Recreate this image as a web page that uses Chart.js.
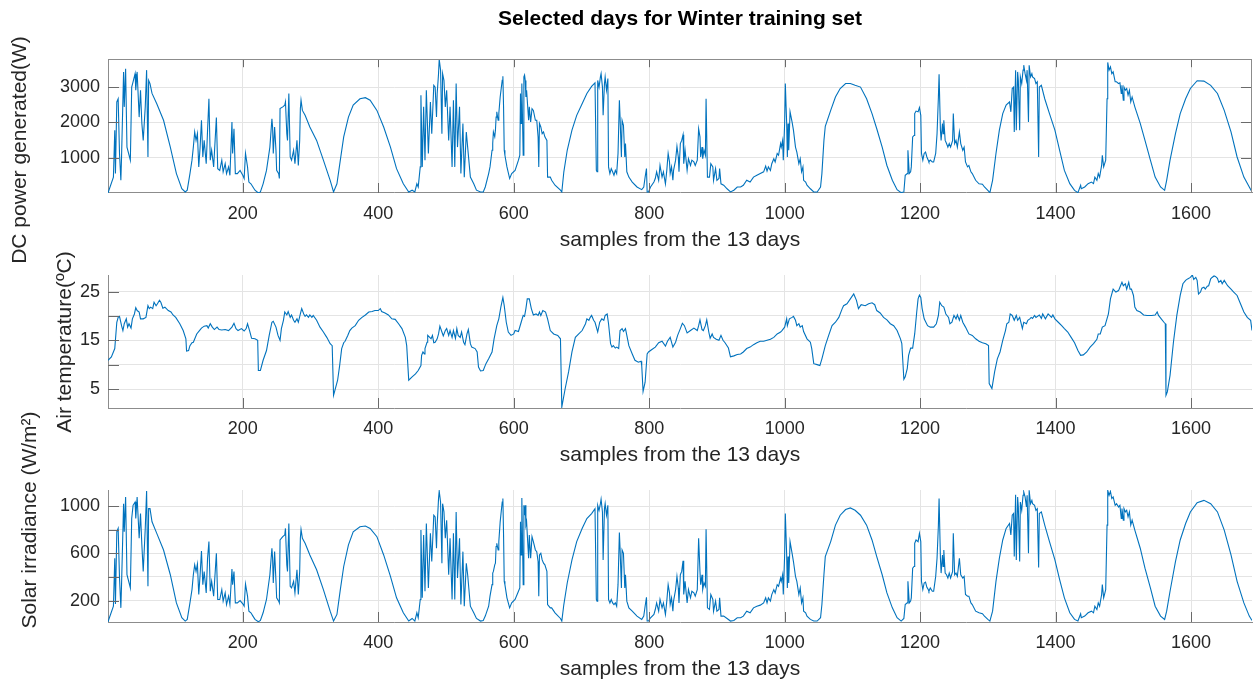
<!DOCTYPE html>
<html><head><meta charset="utf-8">
<script src="https://cdn.jsdelivr.net/npm/chart.js@4.4.1/dist/chart.umd.min.js"></script>
<style>
html,body{margin:0;padding:0;background:#fff;}
#wrap{position:relative;width:1257px;height:684px;}
#wrap canvas{position:absolute;left:0;top:0;}
</style></head><body>
<div id="wrap">
<canvas id="c1" width="1257" height="684"></canvas>
<canvas id="c2" width="1257" height="684"></canvas>
<canvas id="c3" width="1257" height="684"></canvas>
</div>
<script>
// ---------- data ----------
const xTicks = [200,400,600,800,1000,1200,1400,1600];
const xTickLabels = ['200','400','600','800','1000','1200','1400','1600'];
const powerTicks = [1000,2000,3000];
const powerTickLabels = ['1000','2000','3000'];
const tempTicks = [5,10,15,20,25];
const tempTickLabels = ['5','','15','','25'];
const irrTicks = [200,400,600,800,1000];
const irrTickLabels = ['200','','600','','1000'];

// [sample, DC power (W)]
const powerData = [[1,0],[9,450],[11,1780],[12,550],[14,2580],[16,2670],[18,1120],[20,360],[21,1020],[24,3430],[25,2440],[27,3520],[29,1300],[34,930],[36,3000],[38,3150],[41,3380],[42,2910],[44,3430],[47,2150],[49,2910],[51,1970],[53,1490],[56,2440],[58,3480],[60,1020],[61,3190],[63,3100],[66,2820],[73,2530],[83,2060],[93,1300],[102,550],[110,120],[115,30],[118,80],[122,550],[125,930],[127,1300],[129,1730],[131,1490],[133,1680],[135,740],[137,1300],[139,2060],[141,1020],[143,1490],[146,830],[148,1780],[150,2670],[152,930],[154,1210],[157,740],[161,2140],[163,690],[166,640],[169,930],[171,600],[174,830],[176,550],[179,740],[181,500],[184,2010],[185,1120],[187,1820],[189,550],[192,550],[196,640],[200,500],[202,410],[204,1120],[207,740],[209,310],[212,260],[215,170],[218,80],[223,0],[226,30],[230,260],[235,640],[240,1300],[243,2100],[244,1870],[245,1120],[247,1870],[249,1210],[250,640],[253,550],[254,410],[255,2390],[259,2440],[262,2490],[263,2580],[265,1680],[266,1490],[268,2820],[270,1020],[272,930],[275,1210],[277,830],[280,1490],[282,780],[284,1490],[285,2390],[286,2630],[288,2340],[292,2200],[299,1870],[309,1490],[319,930],[329,360],[334,30],[339,260],[344,930],[349,1590],[356,2150],[363,2490],[373,2670],[381,2700],[388,2630],[398,2340],[408,1870],[418,1300],[427,690],[437,260],[445,30],[450,80],[454,30],[457,260],[459,170],[462,740],[463,2770],[465,740],[467,2440],[469,930],[471,2910],[474,1120],[477,2580],[479,1680],[482,3050],[484,3000],[486,2150],[487,2820],[489,3380],[490,3790],[492,3480],[494,1680],[495,3380],[497,3190],[499,2440],[501,2910],[504,1490],[506,2440],[509,740],[511,2630],[513,740],[515,3100],[517,1300],[520,2440],[522,550],[525,1970],[527,450],[530,1730],[532,1300],[536,450],[541,260],[545,80],
[551,30],[555,30],[558,170],[563,550],[565,740],[568,1210],[569,1400],[570,1730],[572,1590],[573,1780],[574,2150],[575,2300],[577,2060],[578,2250],[580,2720],[583,3190],[584,3310],[585,2440],[586,1210],[587,1070],[590,740],[594,410],[597,550],[602,640],[607,930],[609,1070],[610,2820],[611,1970],[612,3100],[614,1070],[615,3290],[616,3340],[617,3190],[618,2720],[619,2910],[622,2060],[623,2440],[625,2010],[627,2390],[629,2340],[632,2060],[634,2060],[636,1590],[637,740],[638,1970],[640,1870],[642,1680],[644,1730],[646,1590],[649,1490],[650,450],[654,450],[656,360],[661,220],[669,80],[671,30],[674,600],[679,1210],[686,1780],[693,2200],[701,2530],[708,2820],[715,3020],[720,3120],[722,640],[723,600],[724,3190],[726,3000],[728,3290],[729,3380],[731,3000],[732,2200],[734,3100],[735,3290],[737,2910],[739,3240],[740,740],[742,550],[744,690],[746,600],[748,500],[750,640],[752,550],[754,1120],[756,2630],[757,2150],[759,1020],[760,2060],[762,1920],[764,1020],[765,1400],[767,600],[770,450],[775,310],[782,170],[789,95],[792,170],[794,450],[796,690],[797,30],[799,30],[802,170],[807,310],[809,410],[811,600],[814,360],[816,780],[819,450],[821,600],[824,260],[826,640],[828,1120],[830,880],[831,550],[833,740],[835,360],[836,640],[839,930],[841,1320],[843,1020],[844,600],[846,1400],[848,1490],[850,1650],[851,830],[853,1210],[856,640],[858,970],[861,780],[863,930],[866,880],[868,780],[871,930],[873,1820],[875,1590],[876,1020],[878,1300],[879,970],[881,1210],[883,1070],[884,2670],[886,450],[889,450],[891,830],[894,740],[895,360],[898,690],[900,360],[903,410],[904,690],[906,260],[910,220],[915,120],[920,30],[925,80],[930,170],[935,170],[939,220],[944,360],[949,310],[954,450],[959,500],[964,550],[969,600],[972,760],[974,620],[976,740],[979,640],[981,830],[984,970],[986,880],[989,1120],[991,1070],[994,1400],[995,1300],[997,1490],[998,930],[1000,1970],[1001,3100],[1003,1970],[1004,1020],[1005,1970],[1006,1210],[1008,2300],[1011,2010],[1013,1780],[1016,1300],[1018,1160],[1021,830],[1023,970],[1025,600],[1027,740],[1028,360],[1031,310],[1033,220],[1038,120],[1043,30],[1048,30],[1053,170],[1055,550],[1058,1490],[1060,1890],[1068,2340],[1075,2720],[1082,2960],[1090,3100],[1097,3100],[1104,3050],[1112,3000],
[1121,2670],[1129,2250],[1136,1820],[1144,1300],[1151,780],[1159,360],[1166,95],[1172,10],[1176,30],[1178,500],[1181,550],[1182,1210],[1184,550],[1186,600],[1187,740],[1189,1590],[1191,1630],[1192,2250],[1194,2320],[1197,2300],[1199,2420],[1201,2200],[1202,1120],[1204,930],[1206,1120],[1208,1160],[1210,1020],[1212,930],[1213,880],[1215,930],[1218,880],[1220,880],[1223,1120],[1225,1680],[1227,2720],[1228,3360],[1230,1780],[1231,1490],[1233,1970],[1234,1680],[1235,2060],[1237,1490],[1239,1400],[1241,1300],[1243,1400],[1245,1300],[1248,1490],[1249,2250],[1251,1400],[1253,1490],[1255,1300],[1258,1730],[1260,1400],[1263,1210],[1265,1300],[1267,880],[1270,740],[1272,780],[1275,600],[1277,550],[1282,360],[1287,260],[1292,250],[1295,170],[1300,75],[1303,10],[1307,360],[1312,1120],[1317,1780],[1322,2250],[1327,2490],[1332,2580],[1334,2300],[1336,2960],[1338,3000],[1339,1730],[1341,3480],[1342,1780],[1344,3430],[1345,3190],[1347,1780],[1348,3290],[1350,3100],[1352,3480],[1353,3620],[1355,3380],[1357,3190],[1358,3480],[1360,2010],[1361,3620],[1363,3290],[1365,3380],[1366,3290],[1369,3240],[1371,3100],[1373,3150],[1375,1020],[1376,3000],[1379,3050],[1384,2670],[1391,2250],[1399,1780],[1406,1210],[1413,640],[1421,265],[1428,75],[1433,10],[1437,220],[1438,120],[1443,170],[1448,265],[1453,310],[1456,265],[1458,450],[1461,360],[1463,550],[1465,450],[1468,780],[1469,1070],[1471,740],[1474,930],[1476,2670],[1477,3700],[1479,3480],[1481,3570],[1483,3380],[1485,3430],[1488,3150],[1490,3150],[1493,3100],[1495,3120],[1497,2820],[1498,3050],[1500,2630],[1501,3000],[1503,2910],[1505,2960],[1507,2770],[1509,2910],[1511,2580],[1513,2720],[1517,2440],[1525,1970],[1532,1490],[1540,930],[1547,450],[1555,170],[1561,75],[1564,360],[1569,930],[1577,1680],[1584,2250],[1592,2670],[1599,2960],[1609,3180],[1619,3170],[1629,3050],[1639,2820],[1649,2340],[1659,1730],[1668,1020],[1678,450],[1686,170],[1690,30]];

// [sample, air temperature (ºC)]
const tempData = [[1,10.9],[6,11.6],[11,13.3],[14,18.7],[16,19.7],[18,19.9],[21,18.0],[23,17.0],[25,18.4],[28,19.4],[30,17.7],[32,18.4],[35,17.5],[37,19.4],[40,20.4],[42,21.7],[44,21.1],[47,20.8],[49,19.4],[53,19.4],[57,19.7],[60,22.1],[62,21.5],[64,21.8],[67,21.5],[69,22.8],[72,22.1],[74,22.5],[77,23.2],[79,22.8],[82,21.6],[85,21.8],[90,21.1],[94,20.8],[97,20.2],[101,19.7],[107,18.4],[112,17.0],[116,15.3],[117,12.8],[120,12.9],[122,13.9],[125,14.5],[127,14.6],[132,16.3],[136,17.0],[139,17.5],[143,17.9],[147,18.0],[149,17.5],[152,18.4],[155,17.7],[158,17.2],[162,17.7],[165,17.2],[169,17.1],[174,17.2],[179,17.0],[184,17.7],[187,18.5],[190,17.4],[193,17.0],[198,17.4],[202,16.9],[205,17.4],[207,18.4],[210,17.0],[213,15.4],[218,15.3],[222,15.0],[223,8.8],[226,8.8],[230,10.9],[235,12.9],[239,16.0],[243,18.7],[245,18.9],[249,17.7],[252,16.0],[255,15.0],[257,17.4],[260,19.1],[262,20.8],[265,20.2],[267,20.9],[270,19.7],[272,20.2],[275,19.1],[277,18.7],[280,19.4],[282,18.7],[285,20.4],[287,21.5],[290,20.4],[292,19.9],[294,20.2],[297,19.7],[299,20.2],[302,19.7],[304,20.1],[309,19.1],[314,17.7],[319,16.7],[324,15.6],[329,14.3],[332,13.9],[334,3.7],[336,4.7],[340,6.8],[343,9.8],[346,13.3],[349,14.5],[351,14.8],[355,16.0],[358,17.0],[361,17.5],[366,18.0],[371,19.1],[376,19.7],[381,20.2],[386,20.8],[391,20.9],[395,21.1],[400,21.1],[403,21.5],[405,20.9],[410,20.6],[415,20.2],[420,19.4],[425,19.3],[430,18.4],[435,17.4],[440,15.6],[442,13.9],[445,6.8],[450,7.5],[455,8.1],[459,8.8],[463,9.8],[464,11.9],[466,12.6],[468,12.2],[469,13.3],[472,14.6],[473,16.0],[476,15.6],[478,15.3],[480,16.0],[482,14.5],[484,14.6],[487,15.3],[489,16.3],[491,17.9],[494,16.7],[496,15.9],[499,17.0],[501,17.4],[504,16.0],[506,17.0],[509,15.6],[511,17.0],[514,15.4],[516,17.4],[518,16.0],[521,15.6],[523,16.7],[526,14.6],[528,14.1],[531,16.3],[533,17.2],[536,14.3],[538,13.6],[543,13.3],[546,12.6],[548,9.5],[551,8.7],
[555,8.8],[559,10.2],[563,11.2],[568,12.6],[571,15.3],[575,18.0],[578,19.4],[581,21.8],[584,23.8],[586,22.1],[589,18.7],[592,16.7],[596,16.0],[600,16.3],[602,17.0],[607,16.8],[611,18.7],[614,20.1],[616,19.9],[618,21.5],[620,23.5],[623,23.5],[626,21.5],[629,20.2],[633,20.4],[636,20.1],[638,20.8],[640,20.1],[643,21.1],[647,20.8],[650,19.4],[654,17.0],[659,16.3],[665,16.0],[669,15.3],[671,1.3],[676,5.1],[681,8.5],[686,12.6],[691,15.6],[696,16.3],[701,17.0],[706,18.4],[708,19.4],[711,19.1],[713,19.7],[715,20.1],[718,19.1],[720,18.7],[724,16.7],[727,18.7],[730,19.4],[733,19.1],[735,20.1],[738,20.4],[740,18.4],[743,14.3],[745,13.6],[747,13.9],[750,13.4],[752,13.6],[755,13.3],[757,17.0],[760,17.4],[762,16.8],[765,17.4],[767,16.0],[770,13.9],[775,12.2],[779,10.9],[784,10.5],[788,10.7],[789,9.8],[791,4.5],[794,6.4],[797,12.2],[799,12.6],[804,13.1],[809,13.6],[814,14.5],[819,14.8],[824,13.8],[827,14.8],[831,15.6],[835,13.6],[839,14.6],[842,16.0],[846,17.4],[849,18.5],[852,18.0],[856,16.5],[861,17.0],[866,17.5],[871,17.0],[873,18.0],[875,19.2],[878,17.2],[880,17.0],[883,18.0],[885,19.2],[888,16.7],[890,15.4],[893,16.3],[895,15.6],[899,15.2],[903,15.0],[906,16.0],[909,15.0],[912,14.5],[917,13.4],[920,11.6],[925,11.8],[930,12.1],[935,12.2],[939,12.6],[944,13.3],[949,13.6],[954,14.1],[959,14.5],[964,14.8],[969,14.8],[974,15.0],[979,15.2],[984,15.6],[989,16.3],[994,16.7],[996,17.0],[1000,17.7],[1003,19.4],[1004,18.0],[1007,19.4],[1011,19.7],[1013,19.9],[1016,19.1],[1018,18.0],[1021,18.4],[1023,17.7],[1026,18.0],[1028,16.8],[1033,15.3],[1038,14.6],[1040,13.3],[1043,10.2],[1048,10.0],[1052,9.8],[1055,11.2],[1060,13.9],[1065,16.0],[1070,18.0],[1075,18.7],[1080,19.7],[1085,21.5],[1087,22.1],[1092,22.5],[1097,23.5],[1102,24.5],[1106,23.2],[1109,21.5],[1113,22.3],
[1119,22.1],[1124,22.5],[1129,22.7],[1133,22.3],[1136,21.1],[1141,20.6],[1146,19.7],[1151,19.2],[1156,18.4],[1161,18.0],[1166,17.0],[1171,15.3],[1173,14.3],[1176,7.0],[1178,7.5],[1181,9.2],[1183,11.9],[1186,13.4],[1189,13.4],[1192,16.3],[1195,20.8],[1197,23.5],[1199,24.3],[1201,23.8],[1203,21.5],[1206,19.4],[1211,18.0],[1215,17.7],[1220,17.7],[1224,18.4],[1227,20.1],[1229,22.8],[1232,22.1],[1235,21.8],[1238,20.4],[1242,19.7],[1244,18.4],[1247,18.7],[1250,20.1],[1253,19.4],[1255,20.2],[1258,19.1],[1260,20.1],[1263,18.7],[1267,17.7],[1272,16.3],[1277,16.0],[1282,15.3],[1287,14.8],[1292,14.5],[1297,14.3],[1301,13.9],[1302,6.1],[1306,5.1],[1310,8.5],[1314,11.2],[1318,12.6],[1322,15.0],[1326,17.0],[1328,18.4],[1331,18.7],[1333,20.4],[1336,20.1],[1339,19.1],[1342,20.1],[1344,19.1],[1347,19.7],[1351,17.4],[1353,18.7],[1357,18.4],[1359,19.1],[1362,19.4],[1364,19.7],[1366,19.5],[1369,20.1],[1371,19.7],[1376,20.2],[1379,19.5],[1381,20.4],[1385,19.4],[1389,20.4],[1394,19.7],[1396,20.2],[1399,19.4],[1404,18.7],[1409,18.0],[1413,17.4],[1418,16.7],[1423,15.6],[1428,14.5],[1433,12.9],[1437,11.9],[1441,12.0],[1446,12.6],[1451,13.6],[1456,14.3],[1461,15.2],[1463,16.3],[1466,16.3],[1469,17.7],[1473,18.0],[1478,20.4],[1481,23.5],[1485,25.5],[1489,24.9],[1493,25.2],[1495,25.9],[1498,26.9],[1500,26.2],[1503,26.6],[1505,25.5],[1508,26.9],[1510,25.5],[1512,25.5],[1515,24.2],[1517,21.8],[1520,21.1],[1525,20.8],[1530,20.2],[1535,20.1],[1542,20.1],[1547,20.2],[1550,20.8],[1552,20.1],[1556,19.4],[1560,18.7],[1562,18.4],[1563,3.7],[1565,4.4],[1569,7.8],[1574,14.6],[1579,20.1],[1584,24.2],[1588,26.6],[1592,27.3],[1595,27.6],[1599,27.9],[1602,28.4],[1604,27.5],[1607,27.9],[1609,27.3],[1611,24.5],[1614,24.9],[1616,25.7],[1619,25.9],[1621,25.5],[1624,26.1],[1626,26.2],[1629,27.6],[1631,27.9],[1634,28.2],[1636,28.1],[1639,27.7],[1641,26.9],[1644,27.3],[1646,26.6],[1649,27.3],[1654,26.2],[1659,25.5],[1663,24.9],[1668,24.2],[1673,22.5],[1678,20.8],[1683,19.7],[1688,19.1],[1690,17.0]];

// [sample, solar irradiance (W/m2)]
const irrData = [[1,20],[9,152],[11,559],[12,170],[14,784],[16,812],[18,391],[20,138],[21,335],[24,1022],[25,784],[27,1079],[29,419],[34,307],[36,896],[38,1008],[41,1036],[42,896],[44,1079],[47,728],[49,938],[51,672],[53,447],[56,812],[58,1129],[60,321],[61,980],[63,980],[66,868],[73,770],[83,629],[93,419],[102,180],[110,54],[115,26],[118,40],[122,180],[125,293],[127,419],[129,503],[131,447],[133,509],[135,251],[137,419],[139,621],[141,335],[143,447],[146,265],[148,559],[150,700],[152,279],[154,363],[157,237],[161,601],[163,209],[166,209],[169,293],[171,195],[174,265],[176,166],[179,237],[181,166],[184,467],[185,335],[187,447],[189,180],[192,180],[196,200],[200,172],[202,152],[204,340],[207,237],[209,110],[212,96],[215,68],[218,40],[223,20],[226,31],[230,96],[235,209],[240,419],[243,644],[244,559],[245,349],[247,615],[249,363],[250,223],[253,195],[254,180],[255,714],[259,742],[262,756],[263,812],[265,503],[266,447],[268,854],[270,321],[272,307],[275,363],[277,265],[280,461],[282,251],[284,447],[285,728],[286,804],[288,728],[292,686],[299,587],[309,461],[319,293],[329,110],[334,26],[339,82],[344,293],[349,489],[356,672],[363,784],[373,826],[381,832],[388,812],[398,742],[408,587],[418,405],[427,223],[437,96],[445,26],[450,48],[454,26],[457,96],[459,54],[462,209],[463,798],[465,223],[467,756],[469,279],[471,854],[474,307],[477,770],[479,531],[482,924],[484,910],[486,644],[487,840],[489,1065],[490,1129],[492,1036],[494,517],[495,1022],[497,952],[499,728],[501,882],[504,419],[506,728],[509,209],[511,770],[513,209],[515,952],[517,391],[520,728],[522,166],[525,615],[527,152],[530,517],[532,419],[536,152],[541,96],[545,48],
[551,26],[555,31],[558,68],[563,152],[565,237],[568,335],[569,433],[570,447],[572,503],[573,517],[574,658],[575,686],[577,629],[578,700],[580,868],[583,1036],[584,1065],[585,756],[586,363],[587,335],[590,223],[594,138],[597,180],[602,209],[607,279],[609,307],[610,868],[611,587],[612,1070],[614,335],[615,1008],[616,924],[617,1008],[618,840],[619,868],[622,559],[623,756],[625,559],[627,742],[629,700],[632,629],[634,615],[636,531],[637,237],[638,587],[640,601],[642,545],[644,517],[646,503],[649,447],[650,166],[654,138],[656,138],[661,96],[669,48],[671,26],[674,166],[679,349],[686,545],[693,700],[701,812],[708,896],[715,938],[720,980],[722,209],[723,195],[724,1008],[726,966],[728,1022],[729,1059],[731,952],[732,545],[734,980],[735,1022],[737,924],[739,1008],[740,209],[742,180],[744,209],[746,180],[748,166],[750,180],[752,152],[754,335],[756,778],[757,644],[759,307],[760,629],[762,601],[764,307],[765,419],[767,195],[770,138],[775,110],[782,68],[789,40],[792,68],[794,152],[796,228],[797,26],[799,26],[802,54],[807,82],[809,124],[811,180],[814,110],[816,209],[819,138],[821,180],[824,82],[826,195],[828,335],[830,265],[831,166],[833,223],[835,110],[836,195],[839,293],[841,405],[843,307],[844,180],[846,419],[848,447],[850,537],[851,251],[853,363],[856,180],[858,293],[861,223],[863,279],[866,265],[868,237],[871,293],[873,728],[875,447],[876,335],[878,419],[879,293],[881,349],[883,321],[884,804],[886,138],[889,124],[891,251],[894,209],[895,110],[898,195],[900,110],[903,124],[904,223],[906,68],[910,68],[915,48],[920,26],[925,31],[930,54],[935,54],[939,68],[944,110],[949,96],[954,138],[959,152],[964,161],[969,180],[972,223],[974,180],[976,223],[979,195],[981,251],[984,293],[986,265],[989,335],[991,321],[994,391],[995,363],[997,419],[998,251],[1000,587],[1001,938],[1003,587],[1004,307],[1005,573],[1006,349],[1008,700],[1011,601],[1013,531],[1016,405],[1018,363],[1021,251],[1023,307],[1025,180],[1027,223],[1028,110],[1031,96],[1033,68],[1038,40],[1043,26],[1048,26],[1053,54],[1055,166],[1058,419],[1060,573],[1068,700],[1075,840],[1082,924],[1090,972],[1097,986],[1104,966],[1112,924],
[1121,840],[1129,714],[1136,573],[1144,419],[1151,265],[1159,138],[1166,54],[1172,26],[1176,48],[1178,166],[1181,180],[1182,363],[1184,180],[1186,195],[1187,223],[1189,475],[1191,489],[1192,686],[1194,714],[1197,700],[1199,770],[1201,700],[1202,363],[1204,293],[1206,349],[1208,357],[1210,312],[1212,293],[1213,279],[1215,307],[1218,279],[1220,279],[1223,405],[1225,559],[1227,840],[1228,1065],[1230,559],[1231,433],[1233,587],[1234,489],[1235,629],[1237,433],[1239,419],[1241,391],[1243,433],[1245,391],[1248,447],[1249,770],[1251,419],[1253,433],[1255,405],[1258,559],[1260,419],[1263,391],[1265,405],[1267,251],[1270,237],[1272,237],[1275,180],[1277,166],[1282,110],[1287,96],[1292,88],[1295,68],[1300,40],[1303,26],[1307,110],[1312,363],[1317,559],[1322,714],[1327,812],[1332,854],[1334,756],[1336,924],[1338,938],[1339,573],[1341,1098],[1342,545],[1344,1079],[1345,994],[1347,531],[1348,1036],[1350,966],[1352,1093],[1353,1121],[1355,1079],[1357,994],[1358,1093],[1360,601],[1361,1135],[1363,1022],[1365,1050],[1366,1022],[1369,1008],[1371,966],[1373,980],[1375,481],[1376,938],[1379,952],[1384,840],[1391,700],[1399,545],[1406,377],[1413,223],[1421,96],[1428,40],[1433,26],[1437,88],[1438,54],[1443,68],[1448,96],[1453,110],[1456,96],[1458,152],[1461,124],[1463,180],[1465,152],[1468,251],[1469,335],[1471,223],[1474,293],[1476,840],[1477,1135],[1479,1093],[1481,1126],[1483,1065],[1485,1079],[1488,1008],[1490,1022],[1493,994],[1495,1008],[1497,896],[1498,980],[1500,882],[1501,980],[1503,952],[1505,966],[1507,910],[1509,952],[1511,840],[1513,882],[1517,798],[1525,644],[1532,475],[1540,307],[1547,152],[1555,68],[1561,40],[1564,110],[1569,279],[1577,531],[1584,714],[1592,854],[1599,952],[1609,1031],[1619,1050],[1629,1022],[1639,952],[1649,798],[1659,587],[1668,363],[1678,180],[1686,68],[1690,31]];

// ---------- rendering ----------
const FONT = "'Liberation Sans', Arial, Helvetica, sans-serif";
Chart.defaults.font.family = FONT;

const framePlugin = {
  id: 'frame',
  afterDraw(chart, args, o) {
    const {ctx, chartArea: a, scales: {x, y}} = chart;
    ctx.save();
    ctx.strokeStyle = '#6a6a6a';
    ctx.lineWidth = 1;
    ctx.beginPath();
    x.ticks.forEach(t => {
      const px = Math.round(x.getPixelForValue(t.value)) + 0.5;
      ctx.moveTo(px, a.bottom); ctx.lineTo(px, a.bottom - 10);
      if (o.box) { ctx.moveTo(px, a.top); ctx.lineTo(px, a.top + 8); }
    });
    y.ticks.forEach(t => {
      const py = Math.round(y.getPixelForValue(t.value)) + 0.5;
      ctx.moveTo(a.left, py); ctx.lineTo(a.left + 11, py);
      if (o.box) { ctx.moveTo(a.right, py); ctx.lineTo(a.right - 11, py); }
    });
    ctx.stroke();
    if (o.box) {
      ctx.strokeStyle = '#8c8c8c';
      ctx.beginPath();
      ctx.moveTo(a.left, Math.round(a.top) + 0.5); ctx.lineTo(a.right, Math.round(a.top) + 0.5);
      ctx.moveTo(Math.round(a.right) - 0.5, a.top); ctx.lineTo(Math.round(a.right) - 0.5, a.bottom);
      ctx.stroke();
    }
    ctx.translate(o.tx, o.ty);
    ctx.rotate(-Math.PI / 2);
    ctx.fillStyle = '#262626';
    ctx.font = '21px ' + FONT;
    ctx.textAlign = 'center';
    ctx.textBaseline = 'middle';
    ctx.fillText(o.text, 0, 0);
    ctx.restore();
  }
};

function makePanel(id, data, c) {
  return new Chart(document.getElementById(id), {
    type: 'line',
    data: { datasets: [{
      data: data.map(p => ({x: p[0], y: p[1]})),
      borderColor: '#0072BD', borderWidth: 1.1, pointRadius: 0, tension: 0, fill: false
    }]},
    options: {
      responsive: false, animation: false, events: [],
      layout: { padding: { left: 0, right: 5, top: c.padTop, bottom: c.padBottom } },
      plugins: {
        legend: { display: false }, tooltip: { enabled: false },
        title: c.title || { display: false },
        frame: { box: c.box, text: c.yTitle, tx: c.tx, ty: c.ty }
      },
      scales: {
        x: {
          type: 'linear', min: 1, max: 1690,
          afterBuildTicks: s => { s.ticks = xTicks.map(v => ({value: v})); },
          afterFit: s => { s.height = 60; },
          grid: { color: '#e4e4e4', drawTicks: false },
          border: { color: '#8c8c8c', width: 1 },
          ticks: { padding: 10, autoSkip: false, maxRotation: 0, color: '#262626', font: { size: 18 },
                   callback: v => xTickLabels[xTicks.indexOf(v)] },
          title: { display: true, text: 'samples from the 13 days', color: '#262626',
                   font: { size: 21 }, padding: { top: 0, bottom: c.xtpb } }
        },
        y: {
          type: 'linear', min: c.min, max: c.max,
          afterBuildTicks: s => { s.ticks = c.ticks.map(v => ({value: v})); },
          afterFit: s => { s.width = 108; },
          grid: { color: '#e4e4e4', drawTicks: false },
          border: { color: '#8c8c8c', width: 1 },
          ticks: { padding: 8, color: '#262626', font: { size: 18 },
                   callback: v => c.labels[c.ticks.indexOf(v)] }
        }
      }
    },
    plugins: [framePlugin]
  });
}

makePanel('c1', powerData, {
  padTop: 0, padBottom: 431, xtpb: 0, min: 0, max: 3790,
  ticks: powerTicks, labels: powerTickLabels, box: true,
  yTitle: 'DC power generated(W)', tx: 20, ty: 150,
  title: { display: true, text: 'Selected days for Winter training set', color: '#000',
           font: { size: 21, weight: 'bold' }, padding: { top: 7, bottom: 27 }, fullSize: false }
});
makePanel('c2', tempData, {
  padTop: 275, padBottom: 216, xtpb: 0, min: 1.1, max: 28.4,
  ticks: tempTicks, labels: tempTickLabels, box: false,
  yTitle: 'Air temperature(ºC)', tx: 65, ty: 342
});
makePanel('c3', irrData, {
  padTop: 490, padBottom: 2, xtpb: 0, min: 18, max: 1138,
  ticks: irrTicks, labels: irrTickLabels, box: false,
  yTitle: 'Solar irradiance (W/m²)', tx: 30, ty: 520
});
</script>
</body></html>
